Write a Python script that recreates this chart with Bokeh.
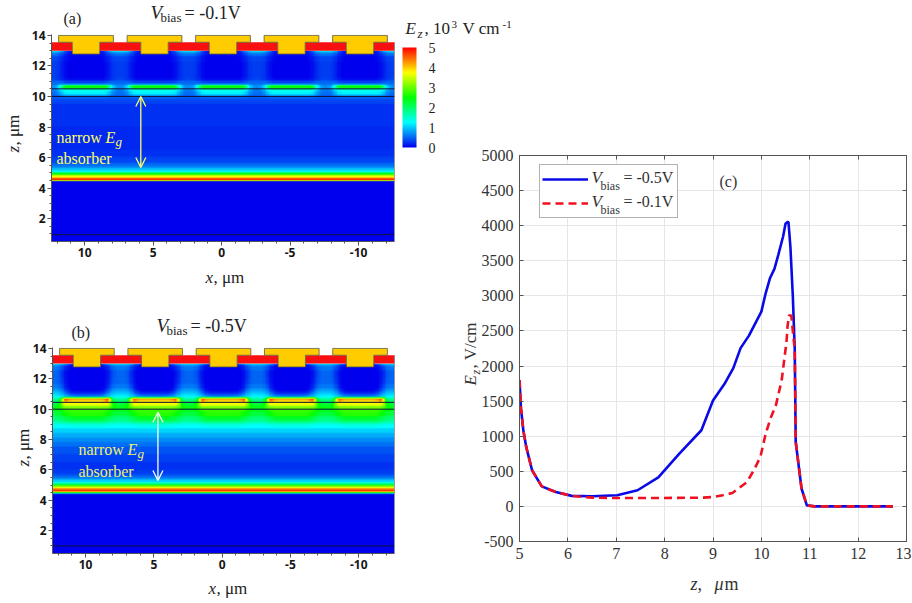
import numpy as np
from bokeh.core.properties import value
from bokeh.embed import file_html
from bokeh.resources import INLINE
from bokeh.layouts import row, column
from bokeh.plotting import figure
from bokeh.models import (LinearColorMapper, ColorBar, FixedTicker, Arrow, OpenHead,
                          Legend, LinearAxis, Range1d)

# ---------- panel (c) curves ----------
z_blue = [5.0, 5.03, 5.08, 5.14, 5.26, 5.46, 5.75, 6.08, 6.5, 7.02, 7.44, 7.87, 8.3, 8.76, 9.0, 9.25, 9.42, 9.57,
          9.74, 10.0, 10.09, 10.18, 10.27, 10.35, 10.45, 10.5, 10.54, 10.56, 10.6, 10.65, 10.69, 10.71, 10.83,
          10.94, 11.1, 11.5, 12.0, 12.72]
e_blue = [1800, 1400, 1080, 845, 515, 285, 205, 150, 145, 160, 230, 415, 750, 1085, 1510, 1760, 1970, 2255,
          2430, 2775, 3040, 3255, 3385, 3585, 3850, 4030, 4050, 4050, 3700, 3000, 2230, 920, 255,
          15, 0, 0, 0, 0]
z_red = [5.0, 5.03, 5.08, 5.14, 5.26, 5.46, 5.75, 6.08, 6.5, 7.0, 8.0, 8.8, 9.0, 9.2, 9.4, 9.7, 9.84, 9.98,
         10.09, 10.2, 10.3, 10.42, 10.52, 10.54, 10.57, 10.62, 10.65, 10.69, 10.71, 10.83, 10.94, 11.1, 11.5,
         12.0, 12.72]
e_red = [1800, 1400, 1080, 845, 515, 285, 205, 150, 125, 120, 120, 125, 135, 160, 190, 345, 510, 705,
         1040, 1275, 1440, 1800, 2350, 2560, 2720, 2720, 2500, 2230, 920, 255, 15, 0, 0,
         0, 0]
c_xticks = [5, 6, 7, 8, 9, 10, 11, 12, 13]
c_yticks = [-500, 0, 500, 1000, 1500, 2000, 2500, 3000, 3500, 4000, 4500, 5000]

# ---------- panels (a), (b): device drawing ----------
stem_centres = [9.9, 4.9, -0.1, -5.1, -10.1]
map_xticks = [10, 5, 0, -5, -10]
map_zticks = [2, 4, 6, 8, 10, 12, 14]

# ---------- colour scale ----------
cb_ticks = [0, 1, 2, 3, 4, 5]
scale_values = [0, 1.25, 2.5, 3.75, 5]
scale_colors = [(0, 0, 238), (0, 255, 255), (0, 255, 0), (255, 255, 0), (255, 0, 0)]

# ---------- field maps: (z top of the row, value(s)) from z=13 downward;
# ten values run from mid-gap to the centre of a contact (one half period) ----------
a_rows = [
    (13.0, [1.3, 1.3, 1.2, .9, .3, .15, .1, .1, .1, .1]),
    (12.9, [1.0, 1.0, .8, .6, .25, .12, .1, .1, .1, .1]),
    (12.8, [.55, .55, .45, .3, .12, .06, .04, .04, .04, .04]),
    (12.6, [.35, .35, .28, .15, .06, .02, 0, 0, 0, 0]),
    (12.2, [.3, .3, .22, .1, .03, 0, 0, 0, 0, 0]),
    (11.2, [.35, .3, .25, .15, .08, .04, .04, .04, .04, .04]),
    (11.0, [.5, .5, .5, .4, .3, .3, .3, .3, .3, .3]),
    (10.8, [.6, .6, .8, .9, .9, .9, .9, .9, .9, .9]),
    (10.7, [.7, .8, 1.3, 2.3, 2.5, 2.5, 2.5, 2.5, 2.5, 2.5]),
    (10.45, [.6, .7, 1.0, 1.3, 1.4, 1.4, 1.4, 1.4, 1.4, 1.4]),
    (10.3, [.55, .6, .8, 1.1, 1.2, 1.2, 1.2, 1.2, 1.2, 1.2]),
    (10.1, [.5, .5, .7, .9, 1.0, 1.0, 1.0, 1.0, 1.0, 1.0]),
    (10.0, [.45, .45, .45, .5, .5, .5, .5, .5, .5, .5]),
    (9.8, [.35]), (9.5, [.25]), (8.0, [.2]), (6.5, [.25]), (6.0, [.35]), (5.6, [.55]), (5.35, [.85]),
    (5.2, [1.1]), (5.05, [1.5]), (5.0, [2.1]), (4.95, [2.6]), (4.85, [3.3]), (4.75, [3.9]), (4.65, [4.5]),
    (4.55, [4.95]), (4.45, [0]),
]
b_rows = [
    (13.0, [1.2, 1.2, 1.2, 1.1, .9, .7, .5, .3, .2, .2]),
    (12.9, [.9, .9, .8, .6, .3, .15, .1, .08, .05, .05]),
    (12.8, [.6, .6, .45, .25, .08, .03, 0, 0, 0, 0]),
    (12.5, [.5, .5, .35, .12, .03, 0, 0, 0, 0, 0]),
    (12.0, [.5, .5, .4, .15, .03, 0, 0, 0, 0, 0]),
    (11.6, [.6, .6, .5, .25, .05, 0, 0, 0, 0, 0]),
    (11.3, [.8, .8, .7, .45, .15, .05, 0, 0, 0, 0]),
    (11.1, [1.0, 1.0, .9, .7, .4, .25, .2, .2, .2, .2]),
    (10.9, [1.2, 1.2, 1.1, 1.0, .8, .7, .65, .6, .6, .6]),
    (10.75, [1.4, 1.4, 1.4, 1.4, 1.3, 1.3, 1.3, 1.3, 1.3, 1.3]),
    (10.7, [1.7, 1.7, 2.0, 4.9, 4.5, 4.3, 4.3, 4.3, 4.3, 4.3]),
    (10.6, [1.9, 1.9, 2.3, 4.7, 4.2, 4.0, 4.0, 4.0, 4.0, 4.0]),
    (10.45, [2.1, 2.1, 2.7, 3.9, 3.8, 3.8, 3.8, 3.8, 3.8, 3.8]),
    (10.3, [2.3, 2.3, 2.8, 3.6, 3.6, 3.6, 3.6, 3.6, 3.6, 3.6]),
    (10.15, [2.4, 2.4, 2.7, 3.0, 3.1, 3.1, 3.1, 3.1, 3.1, 3.1]),
    (9.95, [2.4, 2.4, 2.5, 2.7, 2.8, 2.8, 2.8, 2.8, 2.8, 2.8]),
    (9.8, [2.2, 2.2, 2.3, 2.5, 2.6, 2.7, 2.7, 2.7, 2.7, 2.7]),
    (9.5, [1.9, 1.9, 2.0, 2.1, 2.2, 2.3, 2.3, 2.3, 2.3, 2.3]),
    (9.2, [1.6, 1.6, 1.65, 1.7, 1.75, 1.8, 1.8, 1.8, 1.8, 1.8]),
    (9.0, [1.25, 1.25, 1.25, 1.3, 1.3, 1.35, 1.35, 1.35, 1.35, 1.35]),
    (8.7, [1.05]), (8.4, [.85]), (8.1, [.7]), (7.8, [.55]), (7.5, [.42]), (7.0, [.32]), (6.5, [.25]),
    (6.0, [.3]), (5.7, [.45]), (5.5, [.7]), (5.35, [1.0]), (5.2, [1.3]), (5.1, [2.0]), (5.0, [2.6]),
    (4.9, [3.5]), (4.8, [4.1]), (4.7, [4.7]), (4.6, [4.9]), (4.5, [2.3]), (4.45, [0]),
]

SERIF = "Liberation Serif"
SANS = "Noto Sans"
Z_BOTTOM = 0.5
STEP = 0.05


def field_image(rows):
    tops = [r[0] for r in rows] + [Z_BOTTOM]
    blocks = []
    for i, (_, vals) in enumerate(rows):
        n = int(round((tops[i] - tops[i + 1]) / STEP))
        half = np.array(vals * 10 if len(vals) == 1 else vals, dtype=float)
        period = np.repeat(np.concatenate([half, half[::-1]]), 4)
        blocks.append(np.tile(np.tile(period, 5), (n, 1)))
    img = np.vstack(blocks)[::-1]
    # soften the raster slightly, as the source picture is soft
    kx, kz = 7, 3
    pad_x = np.concatenate([img[:, -kx:], img, img[:, :kx]], axis=1)
    img = np.apply_along_axis(lambda c: np.convolve(c, np.ones(kx) / kx, "same"), 1, pad_x)[:, kx:-kx]
    pad_z = np.vstack([img[:1]] * kz + [img] + [img[-1:]] * kz)
    img = np.apply_along_axis(lambda c: np.convolve(c, np.ones(kz) / kz, "same"), 0, pad_z)[kz:-kz]
    return img


def palette():
    out = []
    for v in np.linspace(0, 5, 256):
        rgb = [int(round(np.interp(v, scale_values, [c[k] for c in scale_colors]))) for k in range(3)]
        out.append("#%02x%02x%02x" % tuple(rgb))
    return out


mapper = LinearColorMapper(palette=palette(), low=0, high=5)


def map_panel(rows, w, h, left, right, top, bottom, lines):
    p = figure(width=w, height=h, x_range=Range1d(12.42, -12.62), y_range=Range1d(Z_BOTTOM, 14.06),
               output_backend="svg", toolbar_location=None, min_border_left=left, min_border_right=right,
               min_border_top=top, min_border_bottom=bottom, border_fill_alpha=0, outline_line_color=None)
    p.grid.visible = False
    p.image(image=[field_image(rows)], x=-12.6, y=Z_BOTTOM, dw=25, dh=13.0 - Z_BOTTOM, color_mapper=mapper)
    # contacts and cap layer
    edges = [12.42] + [e for c in stem_centres for e in (c + 1, c - 1)] + [-12.62]
    p.quad(left=edges[0::2], right=edges[1::2], bottom=13.0, top=13.55, fill_color="#f81010", line_color=None)
    xs = [[c - 2, c + 2, c + 2, c + 1, c + 1, c - 1, c - 1, c - 2] for c in stem_centres]
    ys = [[14, 14, 13.55, 13.55, 12.78, 12.78, 13.55, 13.55] for _ in stem_centres]
    p.patches(xs, ys, fill_color="#ffcc00", line_color="#5a5a40", line_width=0.8)
    p.segment(x0=[12.42] * len(lines), x1=[-12.62] * len(lines), y0=lines, y1=lines, line_color="#10103a", line_width=1)
    p.segment(x0=[-12.62], x1=[-12.62], y0=[Z_BOTTOM], y1=[13.55], line_color="#444444", line_width=1)
    for ax, ticks, minor in ((p.xaxis[0], map_xticks, list(range(-12, 13))),
                             (p.yaxis[0], map_zticks, [k / 2 for k in range(2, 28)])):
        ax.ticker = FixedTicker(ticks=ticks, minor_ticks=minor)
        ax.axis_line_color = "#555555"
        ax.major_tick_line_color = "#555555"
        ax.minor_tick_line_color = "#555555"
        ax.major_tick_in = 0
        ax.minor_tick_in = 0
        ax.major_tick_out = 4
        ax.minor_tick_out = 2
        ax.major_label_text_font = SANS
        ax.major_label_text_font_style = "bold"
        ax.major_label_text_font_size = "12px"
        ax.major_label_text_color = "#151515"
        ax.major_label_standoff = 2
    p.xaxis[0].major_label_overrides = {-5: "-5", -10: "-10"}
    return p


# ---------- (a) ----------
pa = map_panel(a_rows, 512, 305, 51, 118, 34, 64, [10.5, 10.0, 0.95])
pa.add_layout(Arrow(x_start=5.9, x_end=5.9, y_start=5.35, y_end=10.0, line_color="#ffff66", line_width=1.3,
                    start=OpenHead(size=10, line_color="#ffff66", line_width=1.3),
                    end=OpenHead(size=10, line_color="#ffff66", line_width=1.3)))
pa.add_layout(ColorBar(color_mapper=mapper, location=(351, 94), width=14, height=100, padding=0, margin=0,
                       ticker=FixedTicker(ticks=cb_ticks), major_tick_line_color=None, bar_line_color=None,
                       major_label_text_font=SERIF, major_label_text_font_size="14px",
                       major_label_text_color="#222222", label_standoff=12, background_fill_alpha=0,
                       border_line_color=None))

# ---------- (b) ----------
pb = map_panel(b_rows, 512, 293, 52, 118, 42, 45, [10.45, 10.0, 1.0])
pb.add_layout(Arrow(x_start=4.7, x_end=4.7, y_start=5.3, y_end=9.8, line_color="#ffffff", line_width=1.3,
                    start=OpenHead(size=10, line_color="#ffffff", line_width=1.3),
                    end=OpenHead(size=10, line_color="#ffffff", line_width=1.3)))

# ---------- (c) ----------
pc = figure(width=449, height=595, x_range=Range1d(5, 13), y_range=Range1d(-500, 5000), output_backend="svg",
            toolbar_location=None, min_border_left=57, min_border_right=5, min_border_top=155, min_border_bottom=54,
            border_fill_alpha=0, outline_line_color="#555555", margin=(0, 0, 0, -50))
r1 = pc.line(z_blue, e_blue, line_color="#0a0ae6", line_width=2.6)
r2 = pc.line(z_red, e_red, line_color="#f01020", line_width=2.6, line_dash="8 5")
for grid, ticks in ((pc.xgrid[0], c_xticks), (pc.ygrid[0], c_yticks)):
    grid.ticker = FixedTicker(ticks=ticks)
    grid.grid_line_color = "#e6e6ea"
    grid.grid_line_width = 1
pc.add_layout(LinearAxis(), "above")
pc.add_layout(LinearAxis(), "right")
for ax, ticks in ((pc.below[0], c_xticks), (pc.above[0], c_xticks), (pc.left[0], c_yticks), (pc.right[0], c_yticks)):
    ax.ticker = FixedTicker(ticks=ticks)
    ax.axis_line_color = "#555555"
    ax.major_tick_line_color = "#555555"
    ax.minor_tick_line_color = None
    ax.major_tick_in = 4
    ax.major_tick_out = 0
    ax.major_label_text_font = SERIF
    ax.major_label_text_font_size = "16px"
    ax.major_label_text_color = "#333333"
    ax.major_label_standoff = 6
pc.left[0].major_label_overrides = {-500: "-500"}
for ax in (pc.above[0], pc.right[0]):
    ax.major_label_text_font_size = "1px"
    ax.major_label_text_color = None
    ax.major_label_standoff = 0
pc.add_layout(Legend(items=[("", [r1]), ("", [r2])], location=(20, 323), padding=2, margin=0, spacing=0,
                     glyph_width=46, glyph_height=24, label_height=24, label_width=84, label_standoff=3,
                     border_line_color="#666666", border_line_width=1, background_fill_color="#ffffff",
                     background_fill_alpha=1, label_text_font_size="1px"))

# ---------- transparent page-sized layer carrying the mixed-style texts ----------
PAGE_W, PAGE_H = 911, 598
pt = figure(width=PAGE_W, height=PAGE_H, x_range=Range1d(0, PAGE_W), y_range=Range1d(PAGE_H, 0), output_backend="svg",
            toolbar_location=None, min_border=0, border_fill_alpha=0, background_fill_alpha=0,
            outline_line_color=None, margin=(-598, 0, 0, 0))
pt.xaxis.visible = False
pt.yaxis.visible = False
pt.grid.visible = False


def put(text, px, py, size, color="#222222", style="normal", angle=0):
    pt.text([px], [py], text=[text], text_font=value(SERIF), text_font_size=value(f"{size}px"), text_color=color,
            text_font_style=style, text_align="left", text_baseline="middle", angle=angle)


def title(px, py, tail):
    put("V", px, py, 19, style="italic")
    put("bias", px + 10, py + 5, 13)
    put(tail, px + 34, py, 18)


title(150, 12, "= -0.1V")
put("(a)", 63, 18, 16)
put("x", 205, 277, 17, style="italic")
put(", μm", 213, 277, 17)
put("z", 13, 152, 17, style="italic", angle=np.pi / 2)
put(", μm", 13, 145, 17, angle=np.pi / 2)
put("narrow ", 56, 137, 16, color="#ffff66")
put("E", 105, 137, 16, color="#ffff66", style="italic")
put("g", 115, 141, 13, color="#ffff66", style="italic")
put("absorber", 56, 158, 16, color="#ffff66")
put("E", 405, 28, 17, style="italic")
put("z", 417, 33, 13, style="italic")
put(", 10", 424, 28, 17)
put("3", 451, 24, 11)
put("V cm", 462, 28, 17)
put("-1", 502, 24, 11)

title(156, 325, "= -0.5V")
put("(b)", 71, 332, 16)
put("x", 208, 588, 17, style="italic")
put(", μm", 216, 588, 17)
put("z", 23, 466, 17, style="italic", angle=np.pi / 2)
put(", μm", 23, 459, 17, angle=np.pi / 2)
put("narrow ", 78, 449, 16, color="#f0f070")
put("E", 127, 449, 16, color="#f0f070", style="italic")
put("g", 137, 453, 13, color="#f0f070", style="italic")
put("absorber", 78, 471, 16, color="#f0f070")

for py, tail in ((177, "= -0.5V"), (201, "= -0.1V")):
    put("V", 591, py, 17, style="italic", color="#333333")
    put("bias", 600, py + 8, 12, color="#333333")
    put(tail, 623, py, 16, color="#333333")
put("(c)", 719, 181, 16, color="#333333")
put("z", 690, 583, 18, style="italic", color="#333333")
put(",", 697, 583, 18, color="#333333")
put("μ", 714, 583, 18, style="italic", color="#333333")
put("m", 724, 583, 18, color="#333333")
put("E", 470, 385, 17, style="italic", color="#333333", angle=np.pi / 2)
put("z", 475, 374, 12, style="italic", color="#333333", angle=np.pi / 2)
put(",  V/cm", 470, 368, 17, color="#333333", angle=np.pi / 2)

page = column(row(column(column(pa), column(pb)), pc), pt)
open("out.html", "w").write(file_html(page, INLINE))
